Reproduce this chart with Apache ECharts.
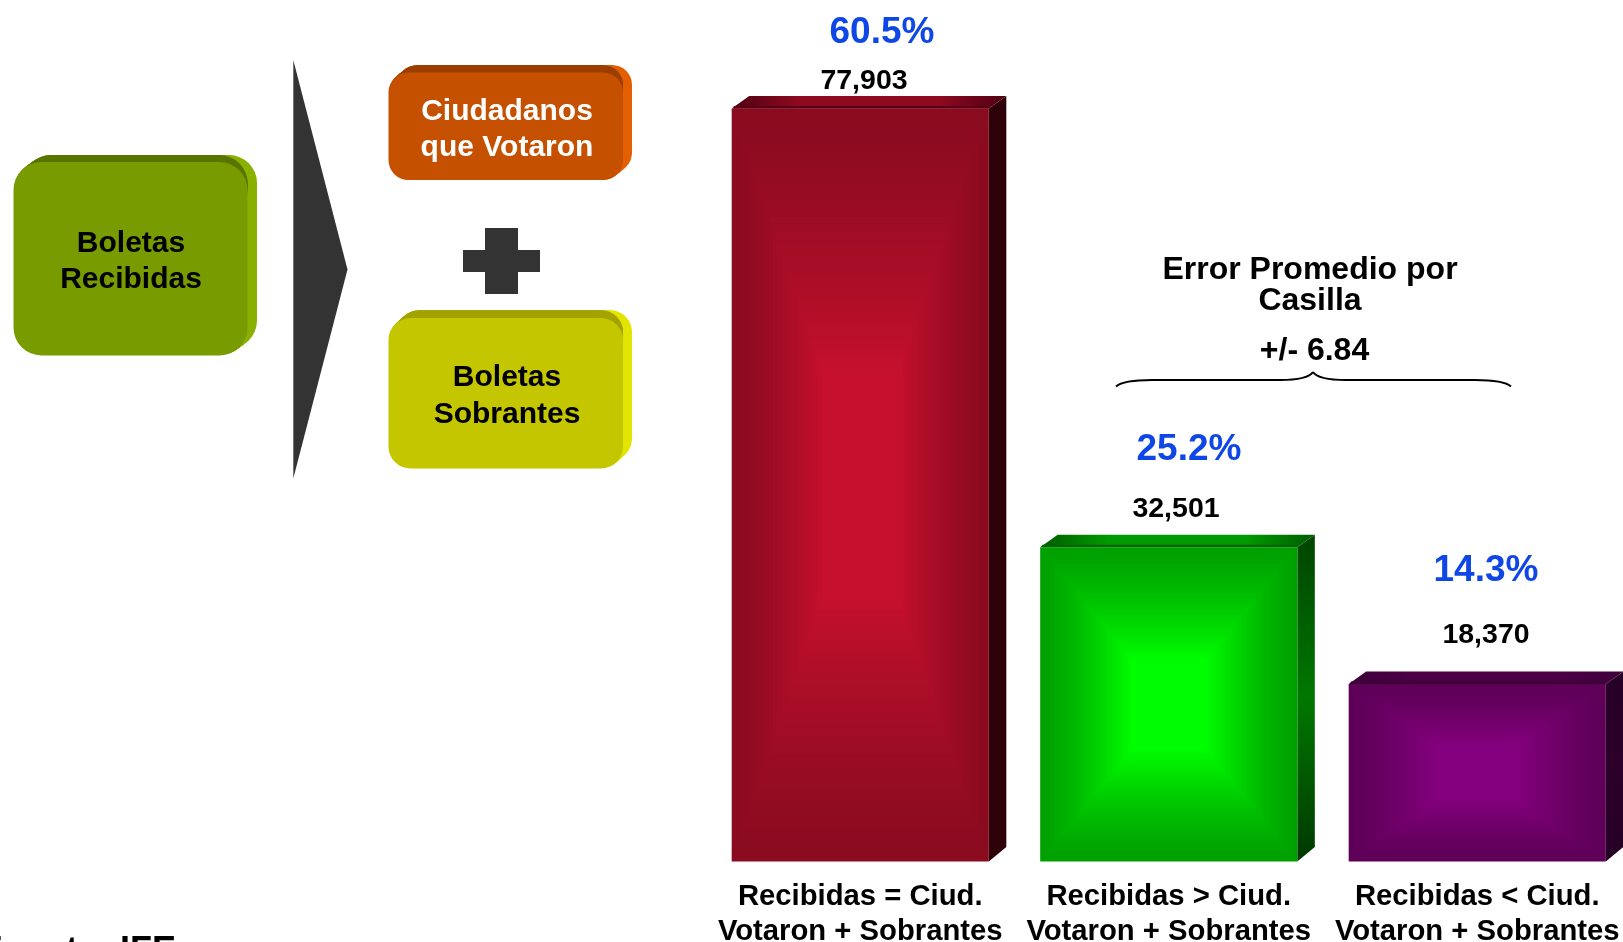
<!DOCTYPE html>
<html><head><meta charset="utf-8">
<style>html,body{margin:0;padding:0;background:#fff}#c{width:1623px;height:942px}</style>
<script src="https://cdn.jsdelivr.net/npm/echarts@6/dist/echarts.min.js"></script>
</head><body><div id="c"></div>
<script>
var categories = ['Recibidas = Ciud.\nVotaron + Sobrantes','Recibidas > Ciud.\nVotaron + Sobrantes','Recibidas < Ciud.\nVotaron + Sobrantes'];
var ballots = [77903, 32501, 18370];
var shares = ['60.5%', '25.2%', '14.3%'];

// styling / layout (not data)
var FONT = '"Liberation Sans", Arial, sans-serif';
var barPalette = [
  {edge:[138,11,31], center:[200,16,46], side:['#2e000a','#2e000a','#2e000a'], top:['#4f0013','#8e0a20','#4f0013'], topEdge:'#5a0014'},
  {edge:[0,160,0], center:[0,255,0], side:['#004400','#007800','#003800'], top:['#005c00','#009a00','#005c00'], topEdge:'#006400'},
  {edge:[94,0,88], center:[134,0,127], side:['#250025','#2c002a','#250025'], top:['#3e003a','#4c0046','#3e003a'], topEdge:'#3a0036'}
];
var numberAnchor = [[864,81.5],[1176,509],[1486,635.5]];
var shareAnchor = [[882,33],[1189,449.5],[1486,570.5]];
var DEPTH_X = 17.5, DEPTH_Y = 12.5;

function lerp(a,b,t){return 'rgb('+a.map(function(v,i){return Math.round(v+(b[i]-v)*t)}).join(',')+')'}
function vgrad(c){return {type:'linear',x:0,y:0,x2:0,y2:1,colorStops:[{offset:0,color:c[0]},{offset:.5,color:c[1]},{offset:1,color:c[2]}]}}
function hgrad(c){return {type:'linear',x:0,y:0,x2:1,y2:0,colorStops:[{offset:0,color:c[0]},{offset:.25,color:c[1]},{offset:.75,color:c[1]},{offset:1,color:c[2]}]}}

function renderBar(params, api){
  var i = params.dataIndex, p = barPalette[i];
  var topPt = api.coord([api.value(0), api.value(1)]);
  var basePt = api.coord([api.value(0), 0]);
  var w = api.size([1,0])[0]*0.8335;
  var x0 = topPt[0]-w/2, x1 = x0+w, y0 = topPt[1], y1 = basePt[1];
  var kids = [];
  kids.push({type:'polygon',shape:{points:[[x1,y0],[x1+DEPTH_X,y0-DEPTH_Y],[x1+DEPTH_X,y1-DEPTH_Y-2],[x1,y1]]},style:{fill:vgrad(p.side)}});
  kids.push({type:'polygon',shape:{points:[[x0,y0],[x0+DEPTH_X,y0-DEPTH_Y],[x1+DEPTH_X,y0-DEPTH_Y],[x1,y0]]},style:{fill:hgrad(p.top)}});
  kids.push({type:'rect',shape:{x:x0+2,y:y0-2.5,width:w-2,height:2.5},style:{fill:p.topEdge}});
  var N = 40, h = y1-y0;
  for (var k=0;k<N;k++){
    var t=k/N, ix=t*w/2*0.72, iy=t*h/2*0.72;
    kids.push({type:'rect',shape:{x:x0+ix,y:y0+iy,width:w-2*ix,height:h-2*iy},style:{fill:lerp(p.edge,p.center,Math.pow(t,1.3))}});
  }
  kids.push({type:'text',style:{x:numberAnchor[i][0],y:numberAnchor[i][1],text:api.value(1).toLocaleString('en-US'),font:'bold 28.5px '+FONT,fill:'#000',align:'center',verticalAlign:'middle'}});
  kids.push({type:'text',style:{x:shareAnchor[i][0],y:shareAnchor[i][1],text:shares[i],font:'bold 37px '+FONT,fill:'#0f46e6',align:'center',verticalAlign:'middle'}});
  return {type:'group',children:kids};
}

function rr(x,y,w,h,r,fill){return {type:'rect',silent:true,shape:{x:x,y:y,width:w,height:h,r:r},style:{fill:fill}}}
function box(x,y,w,h,r,dx,dy,front,top,right){
  var out=[], n=12, j;
  for(j=n;j>=1;j--) out.push(rr(x+dx*j/n,y+dy*j/n,w,h,r,right));
  for(j=n;j>=1;j--) out.push(rr(x+dx*j/n,y+dy*j/n,w-dx*j/n,r*2,r,top));
  out.push(rr(x,y,w,h,r,front));
  return out;
}
function label(t,x,y,size,fill){return {type:'text',silent:true,style:{x:x,y:y,text:t,font:'bold '+size+'px '+FONT,fill:fill||'#000',align:'center',verticalAlign:'middle'}}}
function curve(a,b,c,d){return {type:'bezierCurve',silent:true,shape:{x1:a[0],y1:a[1],cpx1:b[0],cpy1:b[1],cpx2:c[0],cpy2:c[1],x2:d[0],y2:d[1]},style:{stroke:'#000',lineWidth:2,fill:'none'}}}
function seg(a,b){return {type:'line',silent:true,shape:{x1:a[0],y1:a[1],x2:b[0],y2:b[1]},style:{stroke:'#000',lineWidth:2}}}

var elements = [].concat(
  box(13.5,162,234,193.5,28,9.5,-7,'#789c00','#5b7500','#8ab000'),
  box(388.5,72.5,234.5,107.5,20,9,-7.5,'#c55000','#9c3f00','#e35f00'),
  box(388.5,318,234.5,150.5,22,9,-8,'#c4c600','#a3a300','#e3e500'),
  [
    {type:'polygon',silent:true,shape:{points:[[293.3,60],[347.5,269.5],[293.3,478.5]]},style:{fill:'#333333'}},
    {type:'rect',silent:true,shape:{x:463,y:250,width:77,height:22},style:{fill:'#333333'}},
    {type:'rect',silent:true,shape:{x:485,y:228,width:33,height:66},style:{fill:'#333333'}},
    label('Boletas',131,244,30), label('Recibidas',131,280,30),
    label('Ciudadanos',507,112,30,'#fff'), label('que Votaron',507,148,30,'#fff'),
    label('Boletas',507,378,30), label('Sobrantes',507,414.5,30),
    label('Error Promedio por',1310,270,32), label('Casilla',1310,301,32),
    label('+/- 6.84',1314.5,351,32),
    curve([1116,386.5],[1122,381],[1135,380],[1152,380]), seg([1152,380],[1280,380]),
    curve([1280,380],[1298,380],[1309,378],[1313,372]),
    curve([1313,372],[1317,378],[1328,380],[1346,380]), seg([1346,380],[1475,380]),
    curve([1475,380],[1492,380],[1505,381],[1511,386.5]),
    {type:'text',silent:true,style:{x:176,y:952,text:'Fuente: IFE',font:'bold 36px '+FONT,fill:'#000',align:'right',verticalAlign:'middle'}}
  ]
);

var chart = echarts.init(document.getElementById('c'), null, {renderer:'canvas'});
chart.setOption({
  animation:false,
  backgroundColor:'#fff',
  grid:{left:706,right:-8.5,top:108.5,bottom:80.5,containLabel:false,outerBoundsMode:'none'},
  xAxis:{type:'category',data:categories,axisLine:{show:false},axisTick:{show:false},
    axisLabel:{interval:0,margin:18,fontFamily:FONT,fontWeight:'bold',fontSize:29.25,lineHeight:35,color:'#000',hideOverlap:false}},
  yAxis:{type:'value',min:0,max:77903,show:false,splitLine:{show:false}},
  graphic:{elements:elements},
  series:[{type:'custom',renderItem:renderBar,encode:{x:0,y:1},silent:true,
    data:ballots.map(function(v,i){return [i,v]})}]
});
</script></body></html>
